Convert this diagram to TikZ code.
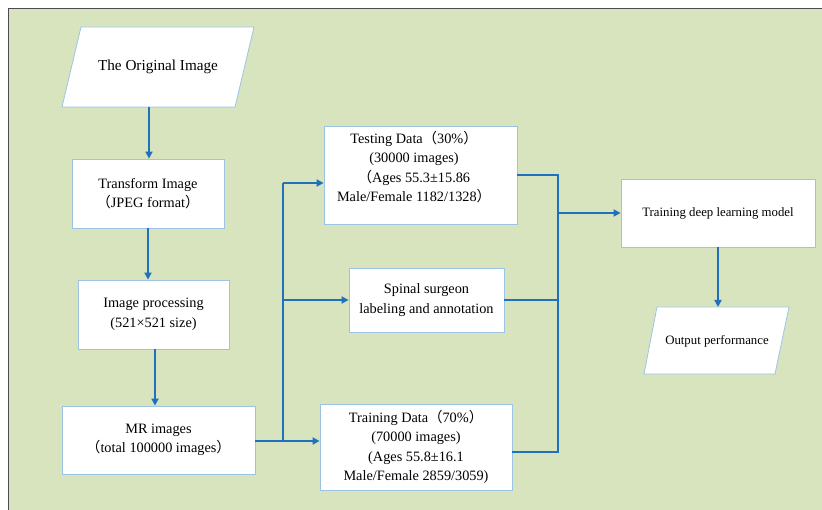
\documentclass[tikz,border=0pt]{standalone}
\usepackage{fontspec}
\setmainfont{Liberation Serif}
\newfontfamily\cjkfw{Noto Sans CJK SC}
\usetikzlibrary{arrows.meta}
\definecolor{bgc}{RGB}{215,228,189}
\definecolor{lnc}{RGB}{31,113,190}
\definecolor{bdc}{RGB}{157,195,230}
\newcommand{\fwl}{{\cjkfw （}}
\newcommand{\fwr}{{\cjkfw ）}}
\tikzset{
  boxn/.style={draw=bdc, fill=white, line width=0.8pt, inner sep=0pt, align=center,
    font=\fontsize{14.3}{19.5}\selectfont},
  txtn/.style={inner sep=0pt, align=center, font=\fontsize{14.3}{19.5}\selectfont},
  smalltxt/.style={inner sep=0pt, align=center, font=\fontsize{12.8}{14}\selectfont},
  pgram/.style={draw=bdc, fill=white, line width=0.8pt},
  conn/.style={draw=lnc, line width=1.7pt},
  arr/.style={conn, -{Triangle[length=7pt,width=7pt]}}
}
\begin{document}
\begin{tikzpicture}[x=1pt,y=-1pt]
\useasboundingbox (0,0) rectangle (822,510);
\fill[white] (0,0) rectangle (822,510);
\fill[bgc] (8,9) rectangle (822,510);
\draw[black!70, line width=1pt] (8,510) -- (8,9) -- (822,9);

% original image parallelogram
\draw[pgram] (62,107) -- (81,27) -- (254,27) -- (235,107) -- cycle;
\node[txtn, font=\fontsize{15.2}{19.5}\selectfont] (orig) at (158,67) {The Original Image};
\coordinate (origb) at (149,107);

\node[boxn, minimum width=152pt, minimum height=69pt] (trans) at (148,193.5)
  {Transform Image\\\fwl JPEG format\fwr};
\node[boxn, minimum width=151pt, minimum height=69pt] (proc) at (153.5,314.5)
  {Image processing\\(521×521 size)};
\node[boxn, minimum width=193pt, minimum height=68pt] (mr) at (158.5,440)
  {MR images\\\fwl total 100000 images\fwr};
\coordinate (pa) at (155,349);

\node[boxn, minimum width=193pt, minimum height=98pt] (test) at (420.5,175) {};
\node[txtn] (testtxt) at (414,167)
  {Testing Data\fwl 30\%\fwr\\(30000 images)\\\fwl Ages 55.3±15.86\\Male/Female 1182/1328\fwr};

\node[boxn, minimum width=155pt, minimum height=64pt] (spinal) at (426.5,300)
  {Spinal surgeon\\labeling and annotation};

\node[boxn, minimum width=192pt, minimum height=86pt] (train) at (416,447)
  {Training Data\fwl 70\%\fwr\\(70000 images)\\(Ages 55.8±16.1\\Male/Female 2859/3059)};

\node[boxn, minimum width=194pt, minimum height=68pt] (model) at (718,213) {};
\node[smalltxt] (modeltxt) at (718,213) {Training deep learning model};

\draw[pgram] (644,374) -- (657,307) -- (789,307) -- (775,374) -- cycle;
\node[smalltxt] (out) at (717,341) {Output performance};
\coordinate (outtop) at (716,307);

% left column arrows
\draw[arr] (origb) -- (origb |- trans.north);
\draw[arr] (trans.south) -- (trans.south |- proc.north);
\draw[arr] (pa) -- (pa |- mr.north);

% split bus
\coordinate (lb) at (283,441);
\coordinate (ta) at (283,183);
\draw[arr] (mr.east |- lb) -- (lb -| train.west);
\draw[conn] (lb) -- (ta);
\draw[arr] (ta) -- (ta -| test.west);
\draw[arr] (ta |- spinal.west) -- (spinal.west);

% merge bus
\coordinate (rt) at (558,175);
\coordinate (rbot) at (558,452);
\draw[conn] (test.east |- rt) -- (rt) -- (rbot) -- (rbot -| train.east);
\draw[conn] (spinal.east) -- (spinal.east -| rt);
\draw[arr] (rt |- model.west) -- (model.west);

\draw[arr] (model.south) -- (model.south |- outtop);
\end{tikzpicture}
\end{document}
